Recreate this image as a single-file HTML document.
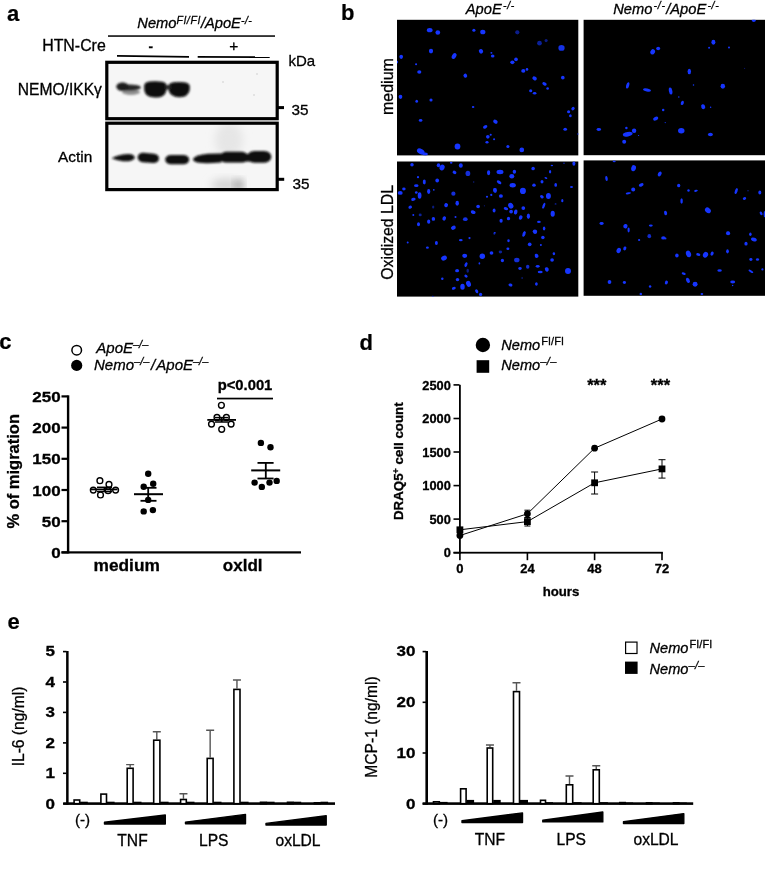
<!DOCTYPE html>
<html><head><meta charset="utf-8"><title>Figure</title>
<style>
html,body{margin:0;padding:0;background:#fff;}
body{width:765px;height:874px;overflow:hidden;}
svg{display:block;}
text{font-family:"Liberation Sans",Arial,Helvetica,sans-serif;fill:#000;stroke:#000;stroke-width:0.3px;}
.b{font-weight:bold;}
.i{font-style:italic;}
.lab{font-weight:bold;font-size:22px;stroke-width:0.2px;}
</style></head><body>
<svg width="765" height="874" viewBox="0 0 765 874">
<defs>
<filter id="bl1" x="-20%" y="-50%" width="140%" height="200%"><feGaussianBlur stdDeviation="1.1"/></filter>
<filter id="bl2" x="-20%" y="-50%" width="140%" height="200%"><feGaussianBlur stdDeviation="0.9"/></filter>
<filter id="bl3" x="-50%" y="-50%" width="200%" height="200%"><feGaussianBlur stdDeviation="4"/></filter>
<filter id="bld" x="-5%" y="-5%" width="110%" height="110%"><feGaussianBlur stdDeviation="0.55"/></filter>
<clipPath id="c1"><rect x="397" y="19.8" width="181.3" height="135.6"/></clipPath>
<clipPath id="c2"><rect x="583.6" y="19.8" width="181.4" height="135.4"/></clipPath>
<clipPath id="c3"><rect x="397" y="161.5" width="181.3" height="135.1"/></clipPath>
<clipPath id="c4"><rect x="583.6" y="160.4" width="181.4" height="135.4"/></clipPath>
<clipPath id="call"><rect x="397" y="19.8" width="181.3" height="135.6"/><rect x="583.6" y="19.8" width="181.4" height="135.4"/><rect x="397" y="161.5" width="181.3" height="135.1"/><rect x="583.6" y="160.4" width="181.4" height="135.4"/></clipPath>
<clipPath id="cb1"><rect x="106.5" y="62" width="171" height="57"/></clipPath>
<clipPath id="cb2"><rect x="106.5" y="123" width="171" height="67"/></clipPath>
</defs>
<rect width="765" height="874" fill="#fff"/>

<g id="panel-a">
<text class="lab" x="7.1" y="21.1">a</text>
<text class="i" x="137.3" y="28.3" font-size="14.7">Nemo<tspan dy="-4.4" font-size="10.5" letter-spacing="0.8">Fl/Fl</tspan><tspan dy="4.4">/ApoE</tspan><tspan dy="-4.4" font-size="10.5" letter-spacing="0.5">-/-</tspan></text>
<rect x="108" y="35.3" width="167" height="1.5" fill="#000"/>
<text x="42.2" y="51.2" font-size="15.9">HTN-Cre</text>
<text class="b" x="148.6" y="50.6" font-size="13.5">-</text>
<text x="229.2" y="51.2" font-size="15.5">+</text>
<line x1="117" y1="55.9" x2="189" y2="56.8" stroke="#000" stroke-width="1.7"/>
<line x1="197.7" y1="56.8" x2="269.7" y2="57.2" stroke="#000" stroke-width="1.7"/>
<text x="288.5" y="66.2" font-size="15">kDa</text>
<rect x="106.6" y="62.2" width="170.6" height="56.8" fill="#f6f6f6"/>
<g clip-path="url(#cb1)">
<g filter="url(#bl1)">
<ellipse cx="131" cy="92" rx="9" ry="3" fill="#8f8f8f"/>
<ellipse cx="129" cy="87.6" rx="12" ry="3.2" fill="#262626"/>
<ellipse cx="122.5" cy="86.8" rx="6.2" ry="4.2" fill="#1a1a1a"/>
<path d="M144.2,85.5 Q144.5,82.2 150,81.6 Q156,80.6 162,81.8 Q166.6,82.6 166.6,86 L166.4,90.5 Q165,97.6 155.5,97.6 Q145.5,97.4 144.3,90.5 Z" fill="#080808"/>
<path d="M168.6,86 Q168.8,83 174,82.3 Q180,81.4 185.5,82.6 Q189.8,83.6 189.8,87 L189.6,90.5 Q188,97.2 179.5,97.2 Q170,97 168.7,90.5 Z" fill="#080808"/>
<rect x="165.5" y="85" width="5" height="4.5" fill="#2a2a2a"/>
</g>
<circle cx="223" cy="82" r="1" fill="#ddd"/><circle cx="254" cy="95" r="1" fill="#ddd"/><circle cx="257" cy="74" r="1" fill="#ddd"/>
</g>
<rect x="106.8" y="62.3" width="170.4" height="56.4" fill="none" stroke="#000" stroke-width="3.2"/>
<rect x="278" y="106.1" width="6" height="3" fill="#000"/>
<text x="291.5" y="115.3" font-size="15.3">35</text>
<text x="17.8" y="94.8" font-size="15.6">NEMO/IKKγ</text>
<rect x="106.6" y="123.2" width="170.6" height="66.6" fill="#f6f6f6"/>
<g clip-path="url(#cb2)">
<ellipse cx="229" cy="140" rx="14" ry="18" fill="#e6e6e6" filter="url(#bl3)"/>
<ellipse cx="226" cy="185" rx="15" ry="6" fill="#d0d0d0" filter="url(#bl3)"/>
<ellipse cx="239" cy="185" rx="4" ry="5" fill="#8a8a8a" filter="url(#bl3)"/>
<g filter="url(#bl2)" fill="#0c0c0c">
<path d="M111.5,158.3 Q122,153.5 131,154.2 Q135.5,155.5 134.5,158.8 Q131,162 123,161.2 Q116,160.5 111.5,158.3 Z"/>
<rect x="137.6" y="153.2" width="21.4" height="9.4" rx="5.5" ry="4.6" transform="rotate(5 148.2 157.8)"/>
<rect x="165.2" y="155" width="24" height="9.2" rx="6" ry="4.5"/>
<path d="M192.8,159 Q196,154.6 208,153.8 L221,153.4 L221,162.6 Q206,163.6 199,162.8 Q193.5,162 192.8,159 Z"/>
<rect x="220" y="151.8" width="28" height="10.8" rx="6" ry="5.2"/>
<rect x="247.3" y="150.9" width="24" height="11.8" rx="7" ry="5.8"/>
<rect x="215" y="154" width="36" height="7.5"/>
</g></g>
<rect x="106.8" y="123.2" width="170.4" height="66.4" fill="none" stroke="#000" stroke-width="3.2"/>
<rect x="278" y="177.8" width="6.2" height="3" fill="#000"/>
<text x="292.5" y="189.3" font-size="15.3">35</text>
<text x="58" y="161.8" font-size="15.4">Actin</text>
</g>
<g id="panel-b">
<text class="lab" x="341.1" y="19.6">b</text>
<text class="i" x="465.8" y="13.8" font-size="14.7">ApoE<tspan dy="-4.4" dx="1.2" font-size="10.5" letter-spacing="0.7">-/-</tspan></text>
<text class="i" x="613.2" y="13.5" font-size="14.7">Nemo<tspan dy="-4.4" dx="1.2" font-size="10.5" letter-spacing="0.7">-/-</tspan><tspan dy="4.4" dx="0.6">/ApoE</tspan><tspan dy="-4.4" dx="1.2" font-size="10.5" letter-spacing="0.7">-/-</tspan></text>
<text transform="translate(393,115) rotate(-90)" font-size="16">medium</text>
<text transform="translate(393,279.8) rotate(-90)" font-size="15.8">Oxidized LDL</text>
<rect x="397" y="19.8" width="181.3" height="135.6" fill="#000"/>
<rect x="583.6" y="19.8" width="181.4" height="135.4" fill="#000"/>
<rect x="397" y="161.5" width="181.3" height="135.1" fill="#000"/>
<rect x="583.6" y="160.4" width="181.4" height="135.4" fill="#000"/>
<g clip-path="url(#call)"><g fill="#1536ff" filter="url(#bld)">
<ellipse cx="429.7" cy="30.2" rx="2.88" ry="2.09"/>
<ellipse cx="437.8" cy="32.5" rx="2.35" ry="2.35"/>
<ellipse cx="473.9" cy="30.2" rx="1.57" ry="1.57"/>
<ellipse cx="482.8" cy="32.0" rx="2.61" ry="2.35"/>
<ellipse cx="517.3" cy="32.3" rx="2.09" ry="2.09" opacity="0.55"/>
<ellipse cx="539.5" cy="43.2" rx="2.35" ry="2.35" opacity="0.6"/>
<ellipse cx="546.1" cy="40.6" rx="1.57" ry="1.57" opacity="0.5"/>
<ellipse cx="561.5" cy="47.9" rx="3.14" ry="2.88" opacity="0.9"/>
<ellipse cx="431.0" cy="51.1" rx="2.09" ry="2.35"/>
<ellipse cx="401.2" cy="56.8" rx="1.83" ry="2.09"/>
<ellipse cx="454.1" cy="56.0" rx="2.09" ry="3.14" transform="rotate(30 454.1 56.0)"/>
<ellipse cx="481.0" cy="51.3" rx="2.09" ry="2.35" transform="rotate(-30 481.0 51.3)"/>
<ellipse cx="492.7" cy="56.0" rx="1.83" ry="1.57"/>
<ellipse cx="491.4" cy="52.9" rx="1.05" ry="0.78"/>
<ellipse cx="416.1" cy="64.2" rx="1.05" ry="1.05"/>
<ellipse cx="419.3" cy="72.0" rx="2.09" ry="1.83"/>
<ellipse cx="512.4" cy="62.3" rx="2.09" ry="1.83"/>
<ellipse cx="516.0" cy="59.4" rx="1.83" ry="1.83"/>
<ellipse cx="523.3" cy="70.9" rx="2.09" ry="1.83"/>
<ellipse cx="527.0" cy="69.4" rx="1.31" ry="1.31"/>
<ellipse cx="465.3" cy="75.7" rx="1.83" ry="2.09" transform="rotate(-30 465.3 75.7)"/>
<ellipse cx="534.6" cy="78.3" rx="2.35" ry="1.83" transform="rotate(30 534.6 78.3)"/>
<ellipse cx="544.5" cy="83.8" rx="2.35" ry="1.57" transform="rotate(30 544.5 83.8)"/>
<ellipse cx="547.6" cy="88.5" rx="1.31" ry="1.31"/>
<ellipse cx="562.8" cy="77.7" rx="1.83" ry="1.83"/>
<ellipse cx="530.7" cy="90.8" rx="1.57" ry="1.57"/>
<ellipse cx="534.6" cy="93.2" rx="1.83" ry="1.31"/>
<ellipse cx="400.5" cy="96.8" rx="1.83" ry="2.09"/>
<ellipse cx="416.7" cy="101.3" rx="1.31" ry="1.57"/>
<ellipse cx="431.0" cy="100.0" rx="1.57" ry="1.57"/>
<ellipse cx="473.1" cy="107.0" rx="1.31" ry="1.05"/>
<ellipse cx="420.6" cy="120.4" rx="1.83" ry="1.31"/>
<ellipse cx="495.4" cy="121.7" rx="2.35" ry="1.83" transform="rotate(30 495.4 121.7)"/>
<ellipse cx="485.2" cy="126.9" rx="2.35" ry="1.57" transform="rotate(-30 485.2 126.9)"/>
<ellipse cx="487.8" cy="136.8" rx="1.83" ry="1.83"/>
<ellipse cx="490.7" cy="134.7" rx="1.05" ry="1.05"/>
<ellipse cx="494.1" cy="139.2" rx="1.05" ry="1.05"/>
<ellipse cx="487.0" cy="142.3" rx="1.57" ry="1.31"/>
<ellipse cx="568.6" cy="111.7" rx="1.57" ry="1.57"/>
<ellipse cx="573.0" cy="108.6" rx="1.83" ry="1.57" transform="rotate(-40 573.0 108.6)"/>
<ellipse cx="570.4" cy="115.7" rx="1.31" ry="1.57"/>
<ellipse cx="565.2" cy="129.2" rx="1.83" ry="1.57"/>
<ellipse cx="457.5" cy="146.5" rx="2.88" ry="2.88"/>
<ellipse cx="507.9" cy="146.5" rx="1.57" ry="1.57"/>
<ellipse cx="521.8" cy="149.9" rx="2.35" ry="2.35"/>
<ellipse cx="420.8" cy="151.5" rx="4.18" ry="2.61" transform="rotate(30 420.8 151.5)"/>
<ellipse cx="425.3" cy="154.1" rx="2.61" ry="1.57"/>
<ellipse cx="578.2" cy="134.0" rx="0.78" ry="1.05"/>
<ellipse cx="397.1" cy="62.1" rx="1.05" ry="1.31"/>
<ellipse cx="753.8" cy="20.5" rx="1.99" ry="1.49"/>
<ellipse cx="713.4" cy="42.3" rx="1.99" ry="2.48"/>
<ellipse cx="709.1" cy="47.8" rx="0.99" ry="0.99"/>
<ellipse cx="729.0" cy="47.5" rx="0.99" ry="0.99"/>
<ellipse cx="652.7" cy="51.8" rx="2.24" ry="2.73" transform="rotate(30 652.7 51.8)"/>
<ellipse cx="658.2" cy="48.5" rx="1.99" ry="1.74"/>
<ellipse cx="689.3" cy="71.6" rx="1.74" ry="2.73"/>
<ellipse cx="744.6" cy="68.4" rx="0.60" ry="0.60" opacity="0.4"/>
<ellipse cx="627.7" cy="85.3" rx="1.49" ry="3.23" transform="rotate(15 627.7 85.3)"/>
<ellipse cx="647.0" cy="90.0" rx="3.97" ry="1.49" transform="rotate(10 647.0 90.0)"/>
<ellipse cx="670.6" cy="91.0" rx="1.74" ry="3.48" transform="rotate(-10 670.6 91.0)"/>
<ellipse cx="693.5" cy="85.0" rx="0.75" ry="0.75"/>
<ellipse cx="722.8" cy="86.3" rx="2.24" ry="2.48"/>
<ellipse cx="678.8" cy="97.0" rx="0.75" ry="0.75"/>
<ellipse cx="682.3" cy="102.9" rx="1.49" ry="2.24" transform="rotate(20 682.3 102.9)"/>
<ellipse cx="703.2" cy="106.7" rx="1.99" ry="2.48" transform="rotate(-20 703.2 106.7)"/>
<ellipse cx="710.6" cy="107.2" rx="0.75" ry="0.75"/>
<ellipse cx="663.2" cy="109.9" rx="1.24" ry="1.24"/>
<ellipse cx="655.7" cy="118.6" rx="2.73" ry="1.74" transform="rotate(-25 655.7 118.6)"/>
<ellipse cx="665.2" cy="122.6" rx="0.60" ry="0.60"/>
<ellipse cx="598.8" cy="129.5" rx="2.24" ry="1.49"/>
<ellipse cx="626.4" cy="128.0" rx="1.24" ry="1.24"/>
<ellipse cx="627.7" cy="134.2" rx="4.97" ry="2.24" transform="rotate(-10 627.7 134.2)"/>
<ellipse cx="634.1" cy="130.7" rx="2.24" ry="2.24"/>
<ellipse cx="624.2" cy="141.7" rx="1.99" ry="1.99"/>
<ellipse cx="638.6" cy="135.5" rx="0.60" ry="0.60"/>
<ellipse cx="681.3" cy="130.7" rx="3.23" ry="2.73"/>
<ellipse cx="710.4" cy="134.5" rx="2.48" ry="1.74"/>
<ellipse cx="412.0" cy="164.8" rx="1.74" ry="1.74"/>
<ellipse cx="438.5" cy="165.2" rx="1.74" ry="1.99"/>
<ellipse cx="442.1" cy="167.5" rx="2.48" ry="2.98" transform="rotate(25 442.1 167.5)"/>
<ellipse cx="451.2" cy="162.8" rx="1.24" ry="0.99"/>
<ellipse cx="460.8" cy="165.5" rx="1.99" ry="2.24"/>
<ellipse cx="454.5" cy="172.4" rx="1.99" ry="1.61" transform="rotate(30 454.5 172.4)"/>
<ellipse cx="467.9" cy="173.4" rx="2.36" ry="2.61" opacity="0.85"/>
<ellipse cx="488.6" cy="172.8" rx="1.61" ry="2.48"/>
<ellipse cx="418.0" cy="177.2" rx="1.12" ry="1.12"/>
<ellipse cx="424.3" cy="181.9" rx="1.49" ry="2.48"/>
<ellipse cx="437.2" cy="180.5" rx="1.86" ry="2.11"/>
<ellipse cx="473.7" cy="182.1" rx="0.75" ry="0.75" opacity="0.5"/>
<ellipse cx="416.3" cy="185.7" rx="2.24" ry="1.37"/>
<ellipse cx="403.9" cy="189.1" rx="1.74" ry="1.49"/>
<ellipse cx="400.2" cy="192.9" rx="2.48" ry="1.86"/>
<ellipse cx="416.3" cy="192.5" rx="1.37" ry="1.37"/>
<ellipse cx="419.6" cy="195.6" rx="1.86" ry="3.23"/>
<ellipse cx="428.7" cy="191.5" rx="1.61" ry="2.48"/>
<ellipse cx="433.8" cy="189.8" rx="0.87" ry="0.87"/>
<ellipse cx="453.4" cy="193.7" rx="2.11" ry="2.11" opacity="0.85"/>
<ellipse cx="494.3" cy="190.0" rx="1.24" ry="1.99"/>
<ellipse cx="491.3" cy="194.9" rx="1.12" ry="1.12"/>
<ellipse cx="487.0" cy="196.7" rx="1.12" ry="0.99"/>
<ellipse cx="413.4" cy="199.3" rx="2.24" ry="1.49" transform="rotate(-15 413.4 199.3)"/>
<ellipse cx="457.2" cy="203.2" rx="1.74" ry="2.48"/>
<ellipse cx="446.1" cy="205.1" rx="1.86" ry="2.11" transform="rotate(25 446.1 205.1)"/>
<ellipse cx="410.2" cy="207.2" rx="1.86" ry="1.49" transform="rotate(-25 410.2 207.2)"/>
<ellipse cx="433.2" cy="207.0" rx="1.12" ry="1.61" opacity="0.5"/>
<ellipse cx="478.1" cy="206.6" rx="1.86" ry="1.74"/>
<ellipse cx="484.4" cy="205.8" rx="0.62" ry="0.62" opacity="0.5"/>
<ellipse cx="494.1" cy="210.5" rx="1.49" ry="1.99"/>
<ellipse cx="473.2" cy="212.2" rx="2.48" ry="1.74" transform="rotate(15 473.2 212.2)"/>
<ellipse cx="413.3" cy="214.9" rx="0.99" ry="0.99"/>
<ellipse cx="420.2" cy="214.9" rx="1.49" ry="1.37" opacity="0.6"/>
<ellipse cx="433.4" cy="218.9" rx="1.74" ry="1.86"/>
<ellipse cx="444.2" cy="218.4" rx="1.74" ry="2.24" transform="rotate(20 444.2 218.4)"/>
<ellipse cx="455.5" cy="217.1" rx="0.99" ry="0.99"/>
<ellipse cx="465.3" cy="219.2" rx="2.36" ry="1.86" opacity="0.9"/>
<ellipse cx="428.7" cy="221.7" rx="1.61" ry="2.11"/>
<ellipse cx="418.5" cy="224.3" rx="1.49" ry="1.99"/>
<ellipse cx="453.4" cy="227.8" rx="2.48" ry="1.99" transform="rotate(-25 453.4 227.8)"/>
<ellipse cx="500.0" cy="172.1" rx="3.48" ry="2.24"/>
<ellipse cx="514.4" cy="171.7" rx="1.74" ry="1.99"/>
<ellipse cx="511.8" cy="176.3" rx="2.48" ry="2.24"/>
<ellipse cx="533.1" cy="168.5" rx="1.74" ry="1.86"/>
<ellipse cx="551.9" cy="165.5" rx="1.24" ry="0.75"/>
<ellipse cx="573.9" cy="163.6" rx="1.49" ry="2.24"/>
<ellipse cx="564.0" cy="163.2" rx="0.62" ry="0.60"/>
<ellipse cx="550.1" cy="171.7" rx="1.12" ry="1.74"/>
<ellipse cx="545.9" cy="178.0" rx="1.49" ry="0.87" transform="rotate(20 545.9 178.0)"/>
<ellipse cx="542.0" cy="181.7" rx="1.49" ry="1.74"/>
<ellipse cx="499.1" cy="182.3" rx="2.61" ry="1.49" transform="rotate(35 499.1 182.3)"/>
<ellipse cx="512.7" cy="185.2" rx="3.10" ry="2.24"/>
<ellipse cx="534.0" cy="185.2" rx="1.74" ry="1.61"/>
<ellipse cx="555.7" cy="184.9" rx="1.37" ry="1.86"/>
<ellipse cx="571.5" cy="186.9" rx="1.49" ry="0.99"/>
<ellipse cx="495.2" cy="190.4" rx="1.74" ry="2.48"/>
<ellipse cx="522.9" cy="190.9" rx="2.98" ry="3.10"/>
<ellipse cx="500.9" cy="196.0" rx="1.99" ry="1.86"/>
<ellipse cx="541.9" cy="196.7" rx="1.99" ry="1.49" transform="rotate(35 541.9 196.7)"/>
<ellipse cx="548.4" cy="195.9" rx="2.48" ry="2.98"/>
<ellipse cx="562.3" cy="200.7" rx="1.12" ry="1.61"/>
<ellipse cx="555.6" cy="203.9" rx="0.99" ry="0.87" opacity="0.5"/>
<ellipse cx="543.8" cy="205.7" rx="1.24" ry="3.10" transform="rotate(20 543.8 205.7)"/>
<ellipse cx="510.8" cy="205.7" rx="2.48" ry="2.98" transform="rotate(-30 510.8 205.7)"/>
<ellipse cx="505.9" cy="208.6" rx="2.24" ry="1.49" transform="rotate(15 505.9 208.6)"/>
<ellipse cx="523.3" cy="208.1" rx="1.86" ry="1.86"/>
<ellipse cx="511.1" cy="211.6" rx="1.86" ry="1.86"/>
<ellipse cx="515.7" cy="212.0" rx="1.74" ry="2.48" transform="rotate(15 515.7 212.0)"/>
<ellipse cx="552.7" cy="213.8" rx="2.11" ry="2.98"/>
<ellipse cx="528.4" cy="216.2" rx="1.61" ry="2.73"/>
<ellipse cx="520.7" cy="217.6" rx="1.74" ry="2.24" transform="rotate(25 520.7 217.6)"/>
<ellipse cx="508.5" cy="218.5" rx="1.61" ry="1.86"/>
<ellipse cx="501.1" cy="220.7" rx="1.61" ry="1.99"/>
<ellipse cx="538.9" cy="221.9" rx="1.86" ry="1.12"/>
<ellipse cx="544.1" cy="228.6" rx="1.24" ry="1.99"/>
<ellipse cx="534.9" cy="231.2" rx="2.11" ry="1.74"/>
<ellipse cx="524.6" cy="232.2" rx="0.99" ry="0.99"/>
<ellipse cx="494.8" cy="232.8" rx="0.99" ry="0.75"/>
<ellipse cx="407.7" cy="242.6" rx="0.99" ry="0.99"/>
<ellipse cx="436.4" cy="243.0" rx="1.49" ry="1.99"/>
<ellipse cx="427.4" cy="247.7" rx="1.49" ry="1.12"/>
<ellipse cx="460.8" cy="240.2" rx="1.86" ry="1.12"/>
<ellipse cx="469.5" cy="238.1" rx="1.12" ry="1.12"/>
<ellipse cx="494.3" cy="233.6" rx="0.99" ry="1.24" opacity="0.6"/>
<ellipse cx="444.0" cy="258.1" rx="2.98" ry="2.36" transform="rotate(-25 444.0 258.1)"/>
<ellipse cx="464.7" cy="255.8" rx="2.48" ry="2.11"/>
<ellipse cx="482.3" cy="256.2" rx="2.73" ry="2.73"/>
<ellipse cx="491.5" cy="253.1" rx="1.86" ry="1.74"/>
<ellipse cx="466.0" cy="264.6" rx="1.37" ry="2.48" transform="rotate(20 466.0 264.6)"/>
<ellipse cx="479.4" cy="263.4" rx="0.87" ry="1.12"/>
<ellipse cx="457.1" cy="270.7" rx="1.99" ry="1.61"/>
<ellipse cx="467.7" cy="270.7" rx="1.24" ry="1.99" opacity="0.5"/>
<ellipse cx="466.0" cy="276.1" rx="1.74" ry="1.37" transform="rotate(30 466.0 276.1)"/>
<ellipse cx="442.3" cy="278.8" rx="1.24" ry="1.24"/>
<ellipse cx="457.5" cy="279.6" rx="1.74" ry="1.61"/>
<ellipse cx="468.5" cy="283.8" rx="2.36" ry="3.10" transform="rotate(-20 468.5 283.8)"/>
<ellipse cx="462.5" cy="286.8" rx="2.24" ry="2.98"/>
<ellipse cx="453.8" cy="288.3" rx="1.99" ry="1.37" transform="rotate(-20 453.8 288.3)"/>
<ellipse cx="476.7" cy="291.3" rx="1.37" ry="2.11" transform="rotate(-30 476.7 291.3)"/>
<ellipse cx="480.6" cy="294.4" rx="1.61" ry="1.61"/>
<ellipse cx="432.9" cy="296.4" rx="0.99" ry="0.62"/>
<ellipse cx="535.1" cy="231.9" rx="1.99" ry="1.99"/>
<ellipse cx="524.0" cy="234.1" rx="1.49" ry="2.73" transform="rotate(20 524.0 234.1)"/>
<ellipse cx="542.9" cy="237.5" rx="1.74" ry="1.74"/>
<ellipse cx="508.5" cy="240.8" rx="1.24" ry="1.49"/>
<ellipse cx="529.7" cy="244.3" rx="1.86" ry="1.86"/>
<ellipse cx="540.9" cy="245.1" rx="0.99" ry="0.99"/>
<ellipse cx="507.9" cy="248.8" rx="1.49" ry="1.24"/>
<ellipse cx="500.4" cy="251.9" rx="1.74" ry="1.49" opacity="0.6"/>
<ellipse cx="553.9" cy="253.8" rx="1.24" ry="1.49"/>
<ellipse cx="536.6" cy="255.8" rx="1.86" ry="2.11" transform="rotate(-20 536.6 255.8)"/>
<ellipse cx="502.4" cy="260.4" rx="1.61" ry="1.74"/>
<ellipse cx="516.8" cy="260.0" rx="2.73" ry="2.36" opacity="0.85"/>
<ellipse cx="552.1" cy="260.0" rx="1.86" ry="1.74"/>
<ellipse cx="537.7" cy="266.3" rx="1.99" ry="1.37"/>
<ellipse cx="527.7" cy="266.7" rx="1.74" ry="1.99" opacity="0.8"/>
<ellipse cx="520.0" cy="268.5" rx="1.74" ry="1.49"/>
<ellipse cx="546.8" cy="269.4" rx="1.86" ry="2.24" transform="rotate(-25 546.8 269.4)"/>
<ellipse cx="540.2" cy="271.9" rx="2.48" ry="1.24"/>
<ellipse cx="568.0" cy="271.0" rx="2.98" ry="2.98"/>
<ellipse cx="522.1" cy="278.1" rx="0.87" ry="0.75" opacity="0.6"/>
<ellipse cx="510.5" cy="285.0" rx="1.99" ry="1.49" transform="rotate(20 510.5 285.0)"/>
<ellipse cx="536.4" cy="283.9" rx="1.37" ry="1.74"/>
<ellipse cx="614.2" cy="161.3" rx="1.49" ry="0.99"/>
<ellipse cx="633.6" cy="168.2" rx="2.36" ry="3.10" transform="rotate(15 633.6 168.2)"/>
<ellipse cx="659.7" cy="173.9" rx="1.74" ry="2.61" transform="rotate(30 659.7 173.9)"/>
<ellipse cx="606.5" cy="178.5" rx="1.24" ry="2.48" transform="rotate(-10 606.5 178.5)"/>
<ellipse cx="641.2" cy="184.9" rx="2.48" ry="1.61" transform="rotate(-20 641.2 184.9)"/>
<ellipse cx="633.2" cy="189.5" rx="1.99" ry="2.11"/>
<ellipse cx="628.4" cy="193.3" rx="2.73" ry="0.99" transform="rotate(-10 628.4 193.3)"/>
<ellipse cx="678.7" cy="185.5" rx="1.61" ry="1.86"/>
<ellipse cx="665.6" cy="213.0" rx="1.49" ry="2.24" transform="rotate(-15 665.6 213.0)"/>
<ellipse cx="601.6" cy="223.4" rx="2.11" ry="1.49"/>
<ellipse cx="625.4" cy="226.2" rx="2.11" ry="2.24" transform="rotate(20 625.4 226.2)"/>
<ellipse cx="628.6" cy="229.9" rx="1.12" ry="2.48"/>
<ellipse cx="650.8" cy="225.6" rx="1.99" ry="1.12"/>
<ellipse cx="688.5" cy="190.4" rx="1.24" ry="1.24"/>
<ellipse cx="696.0" cy="190.8" rx="1.86" ry="0.99" transform="rotate(-15 696.0 190.8)"/>
<ellipse cx="681.6" cy="201.1" rx="1.24" ry="2.73"/>
<ellipse cx="736.2" cy="191.1" rx="1.37" ry="3.10" transform="rotate(20 736.2 191.1)"/>
<ellipse cx="748.0" cy="190.7" rx="0.99" ry="0.75" opacity="0.4"/>
<ellipse cx="759.8" cy="192.5" rx="1.49" ry="2.11"/>
<ellipse cx="744.5" cy="198.5" rx="1.74" ry="1.37" transform="rotate(-20 744.5 198.5)"/>
<ellipse cx="707.9" cy="210.3" rx="3.23" ry="2.48" transform="rotate(40 707.9 210.3)"/>
<ellipse cx="761.1" cy="213.4" rx="1.24" ry="1.99" transform="rotate(-30 761.1 213.4)"/>
<ellipse cx="764.6" cy="214.2" rx="0.99" ry="3.10"/>
<ellipse cx="728.0" cy="232.2" rx="1.74" ry="0.87"/>
<ellipse cx="639.1" cy="240.0" rx="1.12" ry="1.12"/>
<ellipse cx="649.3" cy="236.2" rx="1.86" ry="2.11" opacity="0.8"/>
<ellipse cx="663.4" cy="237.9" rx="2.24" ry="1.61"/>
<ellipse cx="618.7" cy="250.5" rx="2.11" ry="2.73" transform="rotate(25 618.7 250.5)"/>
<ellipse cx="624.8" cy="248.4" rx="1.49" ry="1.99" transform="rotate(20 624.8 248.4)"/>
<ellipse cx="676.9" cy="255.5" rx="1.74" ry="2.11"/>
<ellipse cx="609.5" cy="282.0" rx="1.86" ry="1.99"/>
<ellipse cx="624.4" cy="282.4" rx="1.61" ry="1.49"/>
<ellipse cx="666.4" cy="282.6" rx="1.49" ry="1.99" transform="rotate(20 666.4 282.6)"/>
<ellipse cx="650.1" cy="286.6" rx="1.24" ry="1.24"/>
<ellipse cx="640.8" cy="294.1" rx="1.24" ry="1.24"/>
<ellipse cx="728.1" cy="233.5" rx="2.11" ry="1.74"/>
<ellipse cx="750.4" cy="234.3" rx="1.24" ry="1.74"/>
<ellipse cx="753.9" cy="239.5" rx="2.98" ry="1.86" transform="rotate(20 753.9 239.5)"/>
<ellipse cx="746.0" cy="243.7" rx="1.61" ry="1.86"/>
<ellipse cx="665.7" cy="238.5" rx="0.75" ry="0.99"/>
<ellipse cx="727.5" cy="251.3" rx="1.37" ry="2.11"/>
<ellipse cx="688.5" cy="253.9" rx="2.48" ry="3.48" transform="rotate(-20 688.5 253.9)"/>
<ellipse cx="698.3" cy="254.5" rx="2.11" ry="1.37" transform="rotate(15 698.3 254.5)"/>
<ellipse cx="705.5" cy="254.8" rx="2.48" ry="2.98" transform="rotate(30 705.5 254.8)"/>
<ellipse cx="712.1" cy="253.6" rx="1.49" ry="2.11" transform="rotate(25 712.1 253.6)"/>
<ellipse cx="750.9" cy="259.5" rx="1.61" ry="1.49"/>
<ellipse cx="757.5" cy="259.5" rx="1.61" ry="1.37"/>
<ellipse cx="719.6" cy="270.5" rx="2.24" ry="1.37"/>
<ellipse cx="750.9" cy="271.3" rx="2.73" ry="0.99" transform="rotate(30 750.9 271.3)"/>
<ellipse cx="762.4" cy="269.4" rx="1.12" ry="1.12"/>
<ellipse cx="683.7" cy="273.6" rx="2.11" ry="1.12" transform="rotate(20 683.7 273.6)"/>
<ellipse cx="687.9" cy="280.3" rx="1.74" ry="2.73" transform="rotate(-25 687.9 280.3)"/>
<ellipse cx="695.1" cy="284.2" rx="2.48" ry="2.48"/>
<ellipse cx="732.7" cy="281.9" rx="2.48" ry="1.49"/>
<ellipse cx="732.6" cy="285.5" rx="0.75" ry="0.75"/>
<ellipse cx="701.9" cy="294.0" rx="1.37" ry="0.99"/>
</g></g>
</g>
<g id="panel-c">
<text class="lab" x="-0.8" y="348.6">c</text>
<circle cx="76.7" cy="350.2" r="4.8" fill="#fff" stroke="#000" stroke-width="1.5"/>
<circle cx="76.7" cy="365.4" r="5.6" fill="#000"/>
<text class="i" x="96.3" y="353.3" font-size="15">ApoE<tspan dy="-5" font-size="11">–/–</tspan></text>
<text class="i" x="94" y="369.7" font-size="15">Nemo<tspan dy="-5" font-size="11">–/–</tspan><tspan dy="5" dx="1.8">/</tspan><tspan dx="1">ApoE</tspan><tspan dy="-5" font-size="11">–/–</tspan></text>
<rect x="66.9" y="395.3" width="2.4" height="158.2" fill="#000"/>
<rect x="61.5" y="551.3" width="239.5" height="2.2" fill="#000"/>
<rect x="61.5" y="551.3" width="6" height="2.2" fill="#000"/>
<text class="b" transform="translate(60.7,557.9) scale(1.12,1)" font-size="15.2" text-anchor="end">0</text>
<rect x="61.5" y="520.1" width="6" height="2.2" fill="#000"/>
<text class="b" transform="translate(60.7,526.7) scale(1.12,1)" font-size="15.2" text-anchor="end">50</text>
<rect x="61.5" y="488.9" width="6" height="2.2" fill="#000"/>
<text class="b" transform="translate(60.7,495.5) scale(1.12,1)" font-size="15.2" text-anchor="end">100</text>
<rect x="61.5" y="457.7" width="6" height="2.2" fill="#000"/>
<text class="b" transform="translate(60.7,464.3) scale(1.12,1)" font-size="15.2" text-anchor="end">150</text>
<rect x="61.5" y="426.5" width="6" height="2.2" fill="#000"/>
<text class="b" transform="translate(60.7,433.1) scale(1.12,1)" font-size="15.2" text-anchor="end">200</text>
<rect x="61.5" y="395.3" width="6" height="2.2" fill="#000"/>
<text class="b" transform="translate(60.7,401.9) scale(1.12,1)" font-size="15.2" text-anchor="end">250</text>
<text class="b" transform="translate(18.8,471.3) rotate(-90)" font-size="16.5" text-anchor="middle">% of migration</text>
<text class="b" x="126.7" y="571" font-size="17.3" text-anchor="middle">medium</text>
<text class="b" x="242.7" y="571" font-size="17" text-anchor="middle">oxldl</text>
<circle cx="99.9" cy="480.7" r="2.9" fill="#fff" stroke="#000" stroke-width="1.4"/>
<circle cx="109" cy="484.4" r="2.9" fill="#fff" stroke="#000" stroke-width="1.4"/>
<circle cx="93.3" cy="490.1" r="2.9" fill="#fff" stroke="#000" stroke-width="1.4"/>
<circle cx="115.6" cy="490.1" r="2.9" fill="#fff" stroke="#000" stroke-width="1.4"/>
<circle cx="100.5" cy="495" r="2.9" fill="#fff" stroke="#000" stroke-width="1.4"/>
<circle cx="108.1" cy="490.7" r="2.9" fill="#fff" stroke="#000" stroke-width="1.4"/>
<rect x="91" y="488.50" width="26.5" height="1.8" fill="#000"/>
<rect x="97" y="486.55" width="15.0" height="1.5" fill="#000"/>
<rect x="97" y="490.85" width="15.0" height="1.5" fill="#000"/>
<rect x="103.60" y="487.3" width="1.8" height="4.3" fill="#000"/>
<rect x="134" y="493.20" width="29.0" height="2" fill="#000"/>
<rect x="141" y="486.90" width="15.5" height="1.8" fill="#000"/>
<rect x="140.5" y="499.90" width="16.0" height="1.8" fill="#000"/>
<rect x="147.30" y="487.8" width="1.8" height="13.0" fill="#000"/>
<circle cx="148.2" cy="473.7" r="3.2" fill="#000"/>
<circle cx="153.2" cy="483.8" r="3.2" fill="#000"/>
<circle cx="143.7" cy="486.8" r="3.2" fill="#000"/>
<circle cx="148.2" cy="499.9" r="3.2" fill="#000"/>
<circle cx="143.7" cy="511.4" r="3.2" fill="#000"/>
<circle cx="152.9" cy="510.1" r="3.2" fill="#000"/>
<circle cx="221.4" cy="405.3" r="2.9" fill="#fff" stroke="#000" stroke-width="1.4"/>
<circle cx="217" cy="417.4" r="2.9" fill="#fff" stroke="#000" stroke-width="1.4"/>
<circle cx="226.4" cy="417.4" r="2.9" fill="#fff" stroke="#000" stroke-width="1.4"/>
<circle cx="211.5" cy="424.1" r="2.9" fill="#fff" stroke="#000" stroke-width="1.4"/>
<circle cx="231.1" cy="424.1" r="2.9" fill="#fff" stroke="#000" stroke-width="1.4"/>
<circle cx="221.7" cy="429.3" r="2.9" fill="#fff" stroke="#000" stroke-width="1.4"/>
<rect x="207.3" y="419.00" width="28.7" height="1.8" fill="#000"/>
<rect x="215" y="416.85" width="13.5" height="1.5" fill="#000"/>
<rect x="215" y="421.25" width="13.5" height="1.5" fill="#000"/>
<rect x="220.80" y="417.6" width="1.8" height="4.4" fill="#000"/>
<rect x="251.2" y="469.40" width="29.0" height="2" fill="#000"/>
<rect x="257.5" y="462.00" width="16.1" height="1.8" fill="#000"/>
<rect x="257.5" y="477.60" width="16.1" height="1.8" fill="#000"/>
<rect x="264.90" y="462.9" width="1.8" height="15.6" fill="#000"/>
<circle cx="260.9" cy="442.9" r="3.2" fill="#000"/>
<circle cx="270.5" cy="447.3" r="3.2" fill="#000"/>
<circle cx="254.6" cy="482.6" r="3.2" fill="#000"/>
<circle cx="261.8" cy="486.9" r="3.2" fill="#000"/>
<circle cx="269.5" cy="482.6" r="3.2" fill="#000"/>
<circle cx="276.7" cy="480.9" r="3.2" fill="#000"/>
<text class="b" x="245" y="390.4" font-size="14.8" text-anchor="middle">p&lt;0.001</text>
<rect x="217" y="397.7" width="56" height="1.7" fill="#000"/>
</g>
<g id="panel-d">
<text class="lab" x="359.4" y="349.7">d</text>
<circle cx="482.9" cy="345" r="7.2" fill="#000"/>
<rect x="476.6" y="360.2" width="12.6" height="12.6" fill="#000"/>
<text x="501.3" y="350.1" font-size="14.6"><tspan class="i">Nemo</tspan><tspan dy="-5" dx="1" font-size="11" letter-spacing="0.3">Fl/Fl</tspan></text>
<text x="501.3" y="370.4" font-size="14.6"><tspan class="i">Nemo</tspan><tspan class="i" dy="-5" font-size="11.2" letter-spacing="0.3">–/–</tspan></text>
<rect x="459" y="384.8" width="1.8" height="168.8" fill="#000"/>
<rect x="453.5" y="551.8" width="209.4" height="1.8" fill="#000"/>
<rect x="453.5" y="551.9" width="6" height="1.6" fill="#000"/>
<text class="b" x="450.8" y="557.3" font-size="12.8" text-anchor="end">0</text>
<rect x="453.5" y="518.3" width="6" height="1.6" fill="#000"/>
<text class="b" x="450.8" y="523.7" font-size="12.8" text-anchor="end">500</text>
<rect x="453.5" y="484.8" width="6" height="1.6" fill="#000"/>
<text class="b" x="450.8" y="490.2" font-size="12.8" text-anchor="end">1000</text>
<rect x="453.5" y="451.2" width="6" height="1.6" fill="#000"/>
<text class="b" x="450.8" y="456.6" font-size="12.8" text-anchor="end">1500</text>
<rect x="453.5" y="417.7" width="6" height="1.6" fill="#000"/>
<text class="b" x="450.8" y="423.1" font-size="12.8" text-anchor="end">2000</text>
<rect x="453.5" y="384.1" width="6" height="1.6" fill="#000"/>
<text class="b" x="450.8" y="389.5" font-size="12.8" text-anchor="end">2500</text>
<rect x="459.1" y="552.7" width="1.6" height="7.5" fill="#000"/>
<text class="b" x="459.9" y="573.4" font-size="13" text-anchor="middle">0</text>
<rect x="526.6" y="552.7" width="1.6" height="7.5" fill="#000"/>
<text class="b" x="527.4" y="573.4" font-size="13" text-anchor="middle">24</text>
<rect x="593.8" y="552.7" width="1.6" height="7.5" fill="#000"/>
<text class="b" x="594.6" y="573.4" font-size="13" text-anchor="middle">48</text>
<rect x="661.2" y="552.7" width="1.6" height="7.5" fill="#000"/>
<text class="b" x="662" y="573.4" font-size="13" text-anchor="middle">72</text>
<text class="b" x="561" y="596" font-size="13.2" text-anchor="middle">hours</text>
<text class="b" transform="translate(403.3,461.2) rotate(-90)" font-size="13.3" text-anchor="middle">DRAQ5<tspan dy="-4.5" font-size="9">+</tspan><tspan dy="4.5"> cell count</tspan></text>
<polyline fill="none" stroke="#000" stroke-width="1" points="459.9,535.5 527.4,513.8 594.6,448.2 662,419"/>
<polyline fill="none" stroke="#000" stroke-width="1" points="459.9,529.8 527.4,521.6 594.6,482.8 662,468.9"/>
<path d="M527.4,510.2 V517.6 M524.4,510.2 H530.4 M524.4,517.6 H530.4" stroke="#000" stroke-width="1" fill="none"/>
<path d="M527.4,517.5 V526 M524.4,517.5 H530.4 M524.4,526 H530.4" stroke="#000" stroke-width="1" fill="none"/>
<path d="M594.6,472 V494 M591.1,472 H598.1 M591.1,494 H598.1" stroke="#000" stroke-width="1" fill="none"/>
<path d="M662,459.7 V478.1 M658.5,459.7 H665.5 M658.5,478.1 H665.5" stroke="#000" stroke-width="1" fill="none"/>
<circle cx="459.9" cy="535.5" r="3.4" fill="#000"/>
<circle cx="527.4" cy="513.8" r="3.4" fill="#000"/>
<circle cx="594.6" cy="448.2" r="3.4" fill="#000"/>
<circle cx="662" cy="419" r="3.4" fill="#000"/>
<rect x="456.5" y="526.4" width="6.8" height="6.8" fill="#000"/>
<rect x="524.0" y="518.2" width="6.8" height="6.8" fill="#000"/>
<rect x="591.2" y="479.4" width="6.8" height="6.8" fill="#000"/>
<rect x="658.6" y="465.5" width="6.8" height="6.8" fill="#000"/>
<text class="b" x="596.8" y="391.2" font-size="16.5" text-anchor="middle">***</text>
<text class="b" x="660.5" y="391.2" font-size="16.5" text-anchor="middle">***</text>
</g>
<g id="panel-e">
<text class="lab" x="7.5" y="628.7">e</text>
<rect x="66.1" y="651" width="2.5" height="153.7" fill="#000"/>
<rect x="63.2" y="802.3" width="271.8" height="2.6" fill="#000"/>
<rect x="63" y="802.9" width="3.5" height="1.6" fill="#000"/>
<text class="b" transform="translate(55,808.5) scale(1.15,1)" font-size="14.8" text-anchor="end">0</text>
<rect x="63" y="772.5" width="3.5" height="1.6" fill="#000"/>
<text class="b" transform="translate(55,778.1) scale(1.15,1)" font-size="14.8" text-anchor="end">1</text>
<rect x="63" y="742.1" width="3.5" height="1.6" fill="#000"/>
<text class="b" transform="translate(55,747.7) scale(1.15,1)" font-size="14.8" text-anchor="end">2</text>
<rect x="63" y="711.6" width="3.5" height="1.6" fill="#000"/>
<text class="b" transform="translate(55,717.2) scale(1.15,1)" font-size="14.8" text-anchor="end">3</text>
<rect x="63" y="681.2" width="3.5" height="1.6" fill="#000"/>
<text class="b" transform="translate(55,686.8) scale(1.15,1)" font-size="14.8" text-anchor="end">4</text>
<rect x="63" y="650.8" width="3.5" height="1.6" fill="#000"/>
<text class="b" transform="translate(55,656.4) scale(1.15,1)" font-size="14.8" text-anchor="end">5</text>
<text transform="translate(24.2,726.5) rotate(-90)" font-size="15.6" text-anchor="middle">IL-6 (ng/ml)</text>
<rect x="74.10" y="800.00" width="5.60" height="3.70" fill="#fff" stroke="#000" stroke-width="1.6"/>
<rect x="80.2" y="801.7" width="7.6" height="1.8" fill="#000"/>
<rect x="100.90" y="794.10" width="5.60" height="9.60" fill="#fff" stroke="#000" stroke-width="1.6"/>
<rect x="107.0" y="801.7" width="7.6" height="1.8" fill="#000"/>
<path d="M130.15,764.6 V767.5 M126.15,764.6 H134.15" stroke="#555" stroke-width="1.4" fill="none"/>
<rect x="127.20" y="768.30" width="5.90" height="35.40" fill="#fff" stroke="#000" stroke-width="1.6"/>
<rect x="133.6" y="801.7" width="7.9" height="1.8" fill="#000"/>
<path d="M156.79999999999998,731.8 V739.4 M152.79999999999998,731.8 H160.79999999999998" stroke="#555" stroke-width="1.4" fill="none"/>
<rect x="153.70" y="740.20" width="6.20" height="63.50" fill="#fff" stroke="#000" stroke-width="1.6"/>
<rect x="160.4" y="801.7" width="8.2" height="1.8" fill="#000"/>
<path d="M183.45,793.7 V798.7 M179.45,793.7 H187.45" stroke="#555" stroke-width="1.4" fill="none"/>
<rect x="180.60" y="799.50" width="5.70" height="4.20" fill="#fff" stroke="#000" stroke-width="1.6"/>
<rect x="186.8" y="801.7" width="7.7" height="1.8" fill="#000"/>
<path d="M210.14999999999998,730.2 V757.6 M206.14999999999998,730.2 H214.14999999999998" stroke="#555" stroke-width="1.4" fill="none"/>
<rect x="207.20" y="758.40" width="5.90" height="45.30" fill="#fff" stroke="#000" stroke-width="1.6"/>
<rect x="213.6" y="801.7" width="7.9" height="1.8" fill="#000"/>
<path d="M236.95000000000002,680 V688.6 M232.95000000000002,680 H240.95000000000002" stroke="#555" stroke-width="1.4" fill="none"/>
<rect x="233.90" y="689.40" width="6.10" height="114.30" fill="#fff" stroke="#000" stroke-width="1.6"/>
<rect x="240.5" y="801.7" width="8.1" height="1.8" fill="#000"/>
<rect x="260.50" y="802.30" width="5.80" height="1.40" fill="#fff" stroke="#000" stroke-width="1.6"/>
<rect x="266.8" y="801.7" width="7.8" height="1.8" fill="#000"/>
<rect x="287.50" y="802.30" width="5.60" height="1.40" fill="#fff" stroke="#000" stroke-width="1.6"/>
<rect x="293.6" y="801.7" width="7.6" height="1.8" fill="#000"/>
<rect x="314.40" y="802.80" width="5.60" height="0.90" fill="#fff" stroke="#000" stroke-width="1.6"/>
<rect x="320.5" y="801.7" width="7.6" height="1.8" fill="#000"/>
<text x="82.6" y="825.3" font-size="15.2" text-anchor="middle">(-)</text>
<path d="M104.5,822.3 L165.3,815.0 L165.3,824.0 L104.5,824.0 Z" fill="#000" stroke="#000" stroke-width="1.4" stroke-linejoin="round"/>
<path d="M185.5,822.0999999999999 L245.5,814.4 L245.5,823.8 L185.5,823.8 Z" fill="#000" stroke="#000" stroke-width="1.4" stroke-linejoin="round"/>
<path d="M266,823.4 L326.2,815.7 L326.2,825.1 L266,825.1 Z" fill="#000" stroke="#000" stroke-width="1.4" stroke-linejoin="round"/>
<text x="132.5" y="845.7" font-size="15.6" text-anchor="middle">TNF</text>
<text x="213.8" y="846" font-size="15.6" text-anchor="middle">LPS</text>
<text x="298" y="846" font-size="15.6" text-anchor="middle">oxLDL</text>
<rect x="425.4" y="651" width="2.6" height="153.7" fill="#000"/>
<rect x="422.6" y="802.3" width="270.6" height="2.6" fill="#000"/>
<rect x="422.6" y="802.9" width="3.5" height="1.6" fill="#000"/>
<text class="b" transform="translate(415.4,808.5) scale(1.15,1)" font-size="14.8" text-anchor="end">0</text>
<rect x="422.6" y="752.2" width="3.5" height="1.6" fill="#000"/>
<text class="b" transform="translate(415.4,757.8) scale(1.15,1)" font-size="14.8" text-anchor="end">10</text>
<rect x="422.6" y="701.5" width="3.5" height="1.6" fill="#000"/>
<text class="b" transform="translate(415.4,707.1) scale(1.15,1)" font-size="14.8" text-anchor="end">20</text>
<rect x="422.6" y="650.8" width="3.5" height="1.6" fill="#000"/>
<text class="b" transform="translate(415.4,656.4) scale(1.15,1)" font-size="14.8" text-anchor="end">30</text>
<text transform="translate(377.2,727) rotate(-90)" font-size="15.6" text-anchor="middle">MCP-1 (ng/ml)</text>
<rect x="433.50" y="801.80" width="5.80" height="1.90" fill="#999" stroke="#000" stroke-width="1.6"/>
<rect x="439.8" y="801.9" width="7.8" height="1.8" fill="#000"/>
<rect x="460.60" y="788.80" width="5.50" height="14.90" fill="#fff" stroke="#000" stroke-width="1.6"/>
<rect x="466.6" y="799.9" width="7.5" height="3.8" fill="#000"/>
<path d="M489.95,745 V747.2 M485.95,745 H493.95" stroke="#555" stroke-width="1.4" fill="none"/>
<rect x="487.20" y="748.00" width="5.50" height="55.70" fill="#fff" stroke="#000" stroke-width="1.6"/>
<rect x="493.2" y="799.9" width="7.5" height="3.8" fill="#000"/>
<path d="M516.5,682.8 V690.8 M512.5,682.8 H520.5" stroke="#555" stroke-width="1.4" fill="none"/>
<rect x="513.50" y="691.60" width="6.00" height="112.10" fill="#fff" stroke="#000" stroke-width="1.6"/>
<rect x="520.0" y="799.9" width="8.0" height="3.8" fill="#000"/>
<rect x="540.50" y="800.30" width="5.00" height="3.40" fill="#fff" stroke="#000" stroke-width="1.6"/>
<rect x="546.0" y="802.2" width="7.0" height="1.5" fill="#000"/>
<path d="M569.5,776 V784 M565.5,776 H573.5" stroke="#555" stroke-width="1.4" fill="none"/>
<rect x="566.30" y="784.80" width="6.40" height="18.90" fill="#fff" stroke="#000" stroke-width="1.6"/>
<rect x="573.2" y="802.2" width="8.4" height="1.5" fill="#000"/>
<path d="M596.25,765.7 V769 M592.25,765.7 H600.25" stroke="#555" stroke-width="1.4" fill="none"/>
<rect x="593.20" y="769.80" width="6.10" height="33.90" fill="#fff" stroke="#000" stroke-width="1.6"/>
<rect x="599.8" y="802.2" width="8.1" height="1.5" fill="#000"/>
<rect x="619.80" y="802.60" width="5.40" height="1.10" fill="#999" stroke="#000" stroke-width="1.6"/>
<rect x="625.7" y="802.5" width="7.4" height="1.2" fill="#000"/>
<rect x="646.50" y="802.80" width="5.40" height="0.90" fill="#999" stroke="#000" stroke-width="1.6"/>
<rect x="652.4" y="802.5" width="7.4" height="1.2" fill="#000"/>
<rect x="673.50" y="802.80" width="5.40" height="0.90" fill="#999" stroke="#000" stroke-width="1.6"/>
<rect x="679.4" y="802.5" width="7.4" height="1.2" fill="#000"/>
<text x="440.6" y="825.3" font-size="15.2" text-anchor="middle">(-)</text>
<path d="M462,820.8 L522.5,812.9 L522.5,822.5 L462,822.5 Z" fill="#000" stroke="#000" stroke-width="1.4" stroke-linejoin="round"/>
<path d="M542.8,820.1999999999999 L602.8,812.0 L602.8,821.9 L542.8,821.9 Z" fill="#000" stroke="#000" stroke-width="1.4" stroke-linejoin="round"/>
<path d="M623.5,821.8 L683.8,813.6 L683.8,823.5 L623.5,823.5 Z" fill="#000" stroke="#000" stroke-width="1.4" stroke-linejoin="round"/>
<text x="489.8" y="844.8" font-size="15.6" text-anchor="middle">TNF</text>
<text x="571.2" y="844.6" font-size="15.6" text-anchor="middle">LPS</text>
<text x="656" y="844.6" font-size="15.6" text-anchor="middle">oxLDL</text>
<rect x="625.6" y="642.1" width="11.4" height="11.4" fill="#fff" stroke="#000" stroke-width="1.2"/>
<rect x="625" y="661.6" width="12.6" height="12.3" fill="#000"/>
<text x="649.5" y="653" font-size="14.6"><tspan class="i">Nemo</tspan><tspan dy="-5" dx="1" font-size="11" letter-spacing="0.3">Fl/Fl</tspan></text>
<text x="649.5" y="673.5" font-size="14.6"><tspan class="i">Nemo</tspan><tspan class="i" dy="-5" font-size="11.2" letter-spacing="0.3">–/–</tspan></text>
</g>
</svg></body></html>
